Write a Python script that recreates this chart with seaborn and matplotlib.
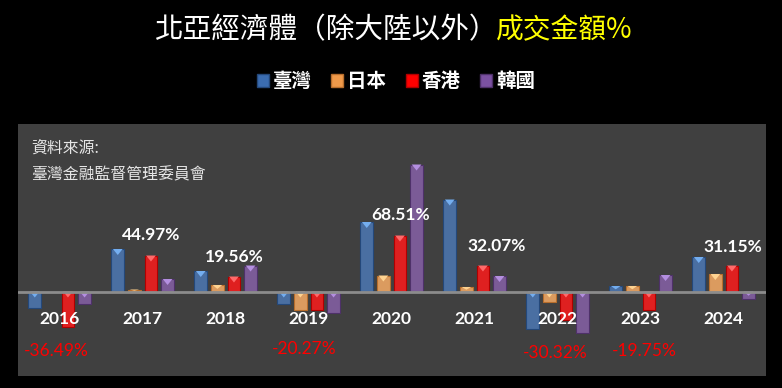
import pandas as pd
import seaborn as sns
import matplotlib.pyplot as plt
import numpy as np
from matplotlib.patches import Polygon, Patch

# Data
years = ['2016', '2017', '2018', '2019', '2020', '2021', '2022', '2023', '2024']
regions = ['臺灣', '日本', '香港', '韓國']
taiwan = [-16, 42.5, 20.5, -12, 69.5, 92, -37.5, 5.5, 34.5]
japan = [0, 2, 6.5, -18, 16, 4.5, -10, 5.5, 17.5]
hongkong = [-35, 36, 15, -18, 56, 26, -28, -18, 26]
korea = [-12, 12.5, 26, -21, 127, 15.5, -41, 16.5, -7]
year_labels = ['-36.49%', '44.97%', '19.56%', '-20.27%', '68.51%', '32.07%', '-30.32%', '-19.75%', '31.15%']

# label placement (style, not data)
label_dx = [-0.04, 0.10, 0.106, -0.057, 0.106, 0.27, -0.027, 0.05, 0.11]
label_y = [-59.5, 57, 35, -57.5, 77, 46, -61.5, -59.5, 44.5]

colors = ['#3b6db1', '#f09a4a', '#ff0000', '#7b51a1']
light = ['#74aef0', '#ffd391', '#ff6a6a', '#b48fe0']
dark = ['#24487a', '#b86e2c', '#b00000', '#4e3169']

df = pd.DataFrame({
    'year': np.repeat(years, 4),
    'region': regions * len(years),
    'value': np.ravel(np.column_stack([taiwan, japan, hongkong, korea])),
})

sns.set_style('dark')
plt.rcParams['font.family'] = ['Noto Sans CJK TC', 'DejaVu Sans']

fig = plt.figure(figsize=(7.82, 3.88), dpi=100, facecolor='black')
ax = fig.add_axes([0.0226, 0.0309, 0.9569, 0.6495])
ax.set_facecolor('#404040')

sns.barplot(data=df, x='year', y='value', hue='region', hue_order=regions,
            palette=colors, width=0.8, gap=0.23, legend=False, ax=ax,
            edgecolor=None, linewidth=0)

# bevel-ish look: darker edge + light triangle at the top of every bar
for i, p in enumerate(ax.patches):
    h = p.get_height()
    if h == 0:
        continue
    k = i // len(years)
    p.set_edgecolor(dark[k])
    p.set_linewidth(0.8)
    x0, w = p.get_x(), p.get_width()
    top = max(p.get_y(), p.get_y() + h)
    th = min(6, abs(h) * 0.6)
    tri = Polygon([[x0 + w * 0.12, top], [x0 + w * 0.88, top], [x0 + w * 0.5, top - th]],
                  closed=True, facecolor=light[k], edgecolor='none', zorder=3)
    ax.add_patch(tri)

ax.axhline(0, color='#8c8c8c', lw=2, zorder=4)
ax.set_xlim(-0.506, len(years) - 1 + 0.51)
ax.set_ylim(-84.5, 167.5)
ax.set_xticks([])
ax.set_yticks([])
ax.set_xlabel('')
ax.set_ylabel('')
ax.grid(False)
for s in ax.spines.values():
    s.set_visible(False)

# year labels sit just below the zero line
for i, y in enumerate(years):
    ax.text(i, -27.5, y, ha='center', va='center', color='white', fontsize=12.5,
            fontweight='bold', family=['Lato', 'DejaVu Sans'], zorder=6)

# growth labels
for i, lab in enumerate(year_labels):
    neg = lab.startswith('-')
    ax.text(i + label_dx[i], label_y[i], lab, ha='center', va='center',
            color='#ff0000' if neg else 'white', fontsize=12.5,
            fontweight='normal' if neg else 'bold',
            family=['Lato', 'DejaVu Sans'], zorder=6)

# source note
ax.text(0.0185, 0.905, '資料來源:', transform=ax.transAxes, ha='left', va='center',
        color='#e6e6e6', fontsize=11.4)
ax.text(0.0185, 0.797, '臺灣金融監督管理委員會', transform=ax.transAxes, ha='left',
        va='center', color='#e6e6e6', fontsize=11.4)

# title in two colours
fig.text(154 / 782, 1 - 30 / 388, '北亞經濟體（除大陸以外）', ha='left', va='center',
         color='white', fontsize=20.6)
fig.text(496 / 782, 1 - 30 / 388, '成交金額%', ha='left', va='center',
         color='#ffff00', fontsize=20)

# legend
handles = [Patch(facecolor=c, edgecolor=d, label=r) for c, d, r in zip(colors, dark, regions)]
leg = fig.legend(handles=handles, loc='center', bbox_to_anchor=(396 / 782, 1 - 81.5 / 388),
                 ncol=4, frameon=False, handlelength=0.62, handleheight=0.68,
                 handletextpad=0.2, columnspacing=1.0,
                 prop={'family': ['Noto Sans CJK TC', 'DejaVu Sans'], 'size': 14, 'weight': 'bold'})
for t in leg.get_texts():
    t.set_color('white')

fig.savefig('out.png', dpi=100, facecolor='black')
